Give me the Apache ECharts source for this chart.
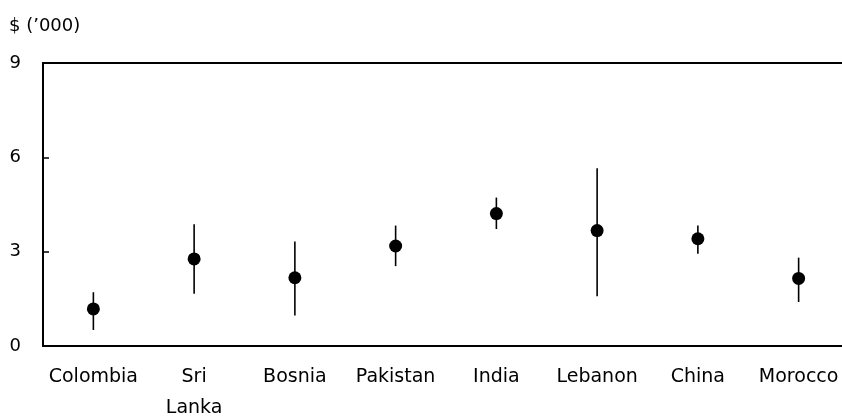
<!DOCTYPE html>
<html>
<head>
<meta charset="utf-8">
<script src="https://cdn.jsdelivr.net/npm/echarts@6/dist/echarts.min.js"></script>
<style>
  html, body { margin: 0; padding: 0; background: #fff; }
  #chart { width: 842px; height: 418px; }
</style>
</head>
<body>
<div id="chart"></div>
<script>
// Country estimates with their low/high range, in thousands of dollars
const countries = ['Colombia', 'Sri\nLanka', 'Bosnia', 'Pakistan', 'India', 'Lebanon', 'China', 'Morocco'];
const central = [1.18, 2.77, 2.17, 3.18, 4.21, 3.67, 3.41, 2.15];
const low     = [0.51, 1.66, 0.97, 2.54, 3.72, 1.58, 2.93, 1.40];
const high    = [1.71, 3.87, 3.32, 3.83, 4.72, 5.65, 3.83, 2.81];
const yTicks  = [0, 3, 6, 9];

const FONT = 'DejaVu Sans';
const chart = echarts.init(document.getElementById('chart'));

const rangeData = countries.map((c, i) => [i, low[i], high[i]]);
const pointData = countries.map((c, i) => [i, central[i]]);

chart.setOption({
  animation: false,
  title: {
    text: '$ (\u2019000)',
    left: 4,
    top: 12,
    textStyle: { fontFamily: FONT, fontSize: 18, fontWeight: 'normal', color: '#000' }
  },
  grid: {
    left: 43, top: 63, right: -7, bottom: 72,
    outerBoundsMode: 'none',
    containLabel: false,
    show: true, borderColor: '#000', borderWidth: 2, backgroundColor: 'transparent'
  },
  xAxis: {
    type: 'category',
    data: countries,
    boundaryGap: true,
    axisLine: { show: true, lineStyle: { color: '#000', width: 2 } },
    axisTick: { show: false },
    axisLabel: {
      color: '#000', fontFamily: FONT, fontSize: 19, lineHeight: 31, margin: 16, interval: 0
    }
  },
  yAxis: {
    type: 'value',
    min: yTicks[0],
    max: yTicks[yTicks.length - 1],
    interval: 3,
    axisLine: { show: true, lineStyle: { color: '#000', width: 2 } },
    axisTick: { show: true, inside: true, length: 6, lineStyle: { color: '#000', width: 1.5 } },
    splitLine: { show: false },
    axisLabel: { color: '#000', fontFamily: FONT, fontSize: 18, margin: 22 }
  },
  series: [
    {
      type: 'custom',
      data: rangeData,
      renderItem: function (params, api) {
        const x = api.value(0);
        const p1 = api.coord([x, api.value(1)]);
        const p2 = api.coord([x, api.value(2)]);
        return {
          type: 'line',
          shape: { x1: p1[0], y1: p1[1], x2: p2[0], y2: p2[1] },
          style: { stroke: '#000', lineWidth: 1.6 }
        };
      },
      z: 1
    },
    {
      type: 'scatter',
      data: pointData,
      symbol: 'circle',
      symbolSize: 13,
      itemStyle: { color: '#000', opacity: 1 },
      z: 2
    }
  ]
});
</script>
</body>
</html>
